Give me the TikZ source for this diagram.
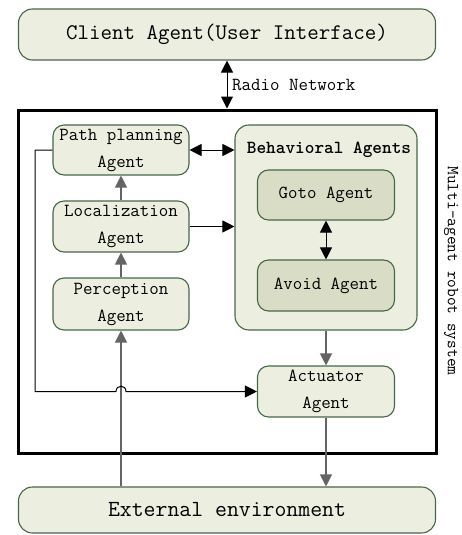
\documentclass[tikz,border=0pt]{standalone}
\usetikzlibrary{arrows.meta,calc}
\definecolor{boxfill}{RGB}{236,238,224}
\definecolor{innerfill}{RGB}{218,221,198}
\definecolor{boxline}{RGB}{70,104,72}
\definecolor{conngray}{RGB}{100,100,100}
\tikzset{
  agent/.style={draw=boxline, fill=boxfill, rounded corners=11pt, line width=1.1pt,
    align=center, inner sep=0pt, font=\ttfamily\fontsize{18.4}{27}\selectfont},
  inneragent/.style={agent, fill=innerfill},
  bigbox/.style={agent, rounded corners=14pt},
  tip/.style={-{Triangle[length=12pt,width=12pt]}},
  bitip/.style={{Triangle[length=12pt,width=12pt]}-{Triangle[length=12pt,width=12pt]}},
  conn/.style={line width=1pt, black},
  vconn/.style={line width=1.2pt, conngray},
}
\begin{document}
\begin{tikzpicture}[x=1pt,y=-1pt]
\useasboundingbox (0,0) rectangle (461,535);
\node[bigbox, minimum width=417pt, minimum height=51pt, font=\ttfamily\fontsize{22.3}{26}\selectfont] (client) at (227,34.5) {Client Agent(User Interface)};
\node[draw=black, line width=3pt, minimum width=418pt, minimum height=343pt, inner sep=0pt] (sys) at (227,281.5) {};
\node[bigbox, minimum width=182pt, minimum height=205pt] (beh) at (326,227.5) {};
\node[font=\ttfamily\fontsize{18.4}{22}\selectfont\bfseries] (behtitle) at (329,150) {Behavioral Agents};
\node[agent, minimum width=136pt, minimum height=50pt] (path) at (121,150) {Path planning\\Agent};
\node[agent, minimum width=136pt, minimum height=51pt] (loc) at (121,226.5) {Localization\\Agent};
\node[agent, minimum width=136pt, minimum height=52pt] (perc) at (121,304) {Perception\\Agent};
\node[inneragent, minimum width=137pt, minimum height=50pt] (goto) at (326,195) {Goto Agent};
\node[inneragent, minimum width=137pt, minimum height=51pt] (avoid) at (326,285.5) {Avoid Agent};
\node[agent, minimum width=137pt, minimum height=51pt] (act) at (326,391.5) {Actuator\\Agent};
\node[bigbox, minimum width=417pt, minimum height=46pt, font=\ttfamily\fontsize{23.1}{26}\selectfont] (ext) at (227,510) {External environment};
\node[rotate=-90, font=\ttfamily\fontsize{16.9}{20}\selectfont] (mars) at (451,271) {Multi-agent robot system};
\node[anchor=west, font=\ttfamily\fontsize{18.4}{22}\selectfont, inner sep=0pt] (radio) at (232,85) {Radio Network};

\draw[conn, bitip] (client.south) -- (sys.north);
\draw[conn, bitip] (path.east) -- (path.east -| beh.west);
\draw[conn, tip] (loc.east) -- (loc.east -| beh.west);
\draw[vconn, tip] (loc.north) -- (path.south);
\draw[vconn, tip] (perc.north) -- (loc.south);
\draw[vconn, tip] (perc.south |- ext.north) -- (perc.south);
\draw[conn, bitip] (goto.south) -- (avoid.north);
\draw[vconn, tip] (beh.south) -- (act.north);
\draw[vconn, tip] (act.south) -- (act.south |- ext.north);
\coordinate (pl) at (35,150);
\coordinate (j1) at (116,391.5);
\coordinate (j2) at (126,391.5);
\draw[conn, tip] (path.west) -- (pl) |- (j1) .. controls (116,384.5) and (126,384.5) .. (j2) -- (act.west);
\end{tikzpicture}
\end{document}
